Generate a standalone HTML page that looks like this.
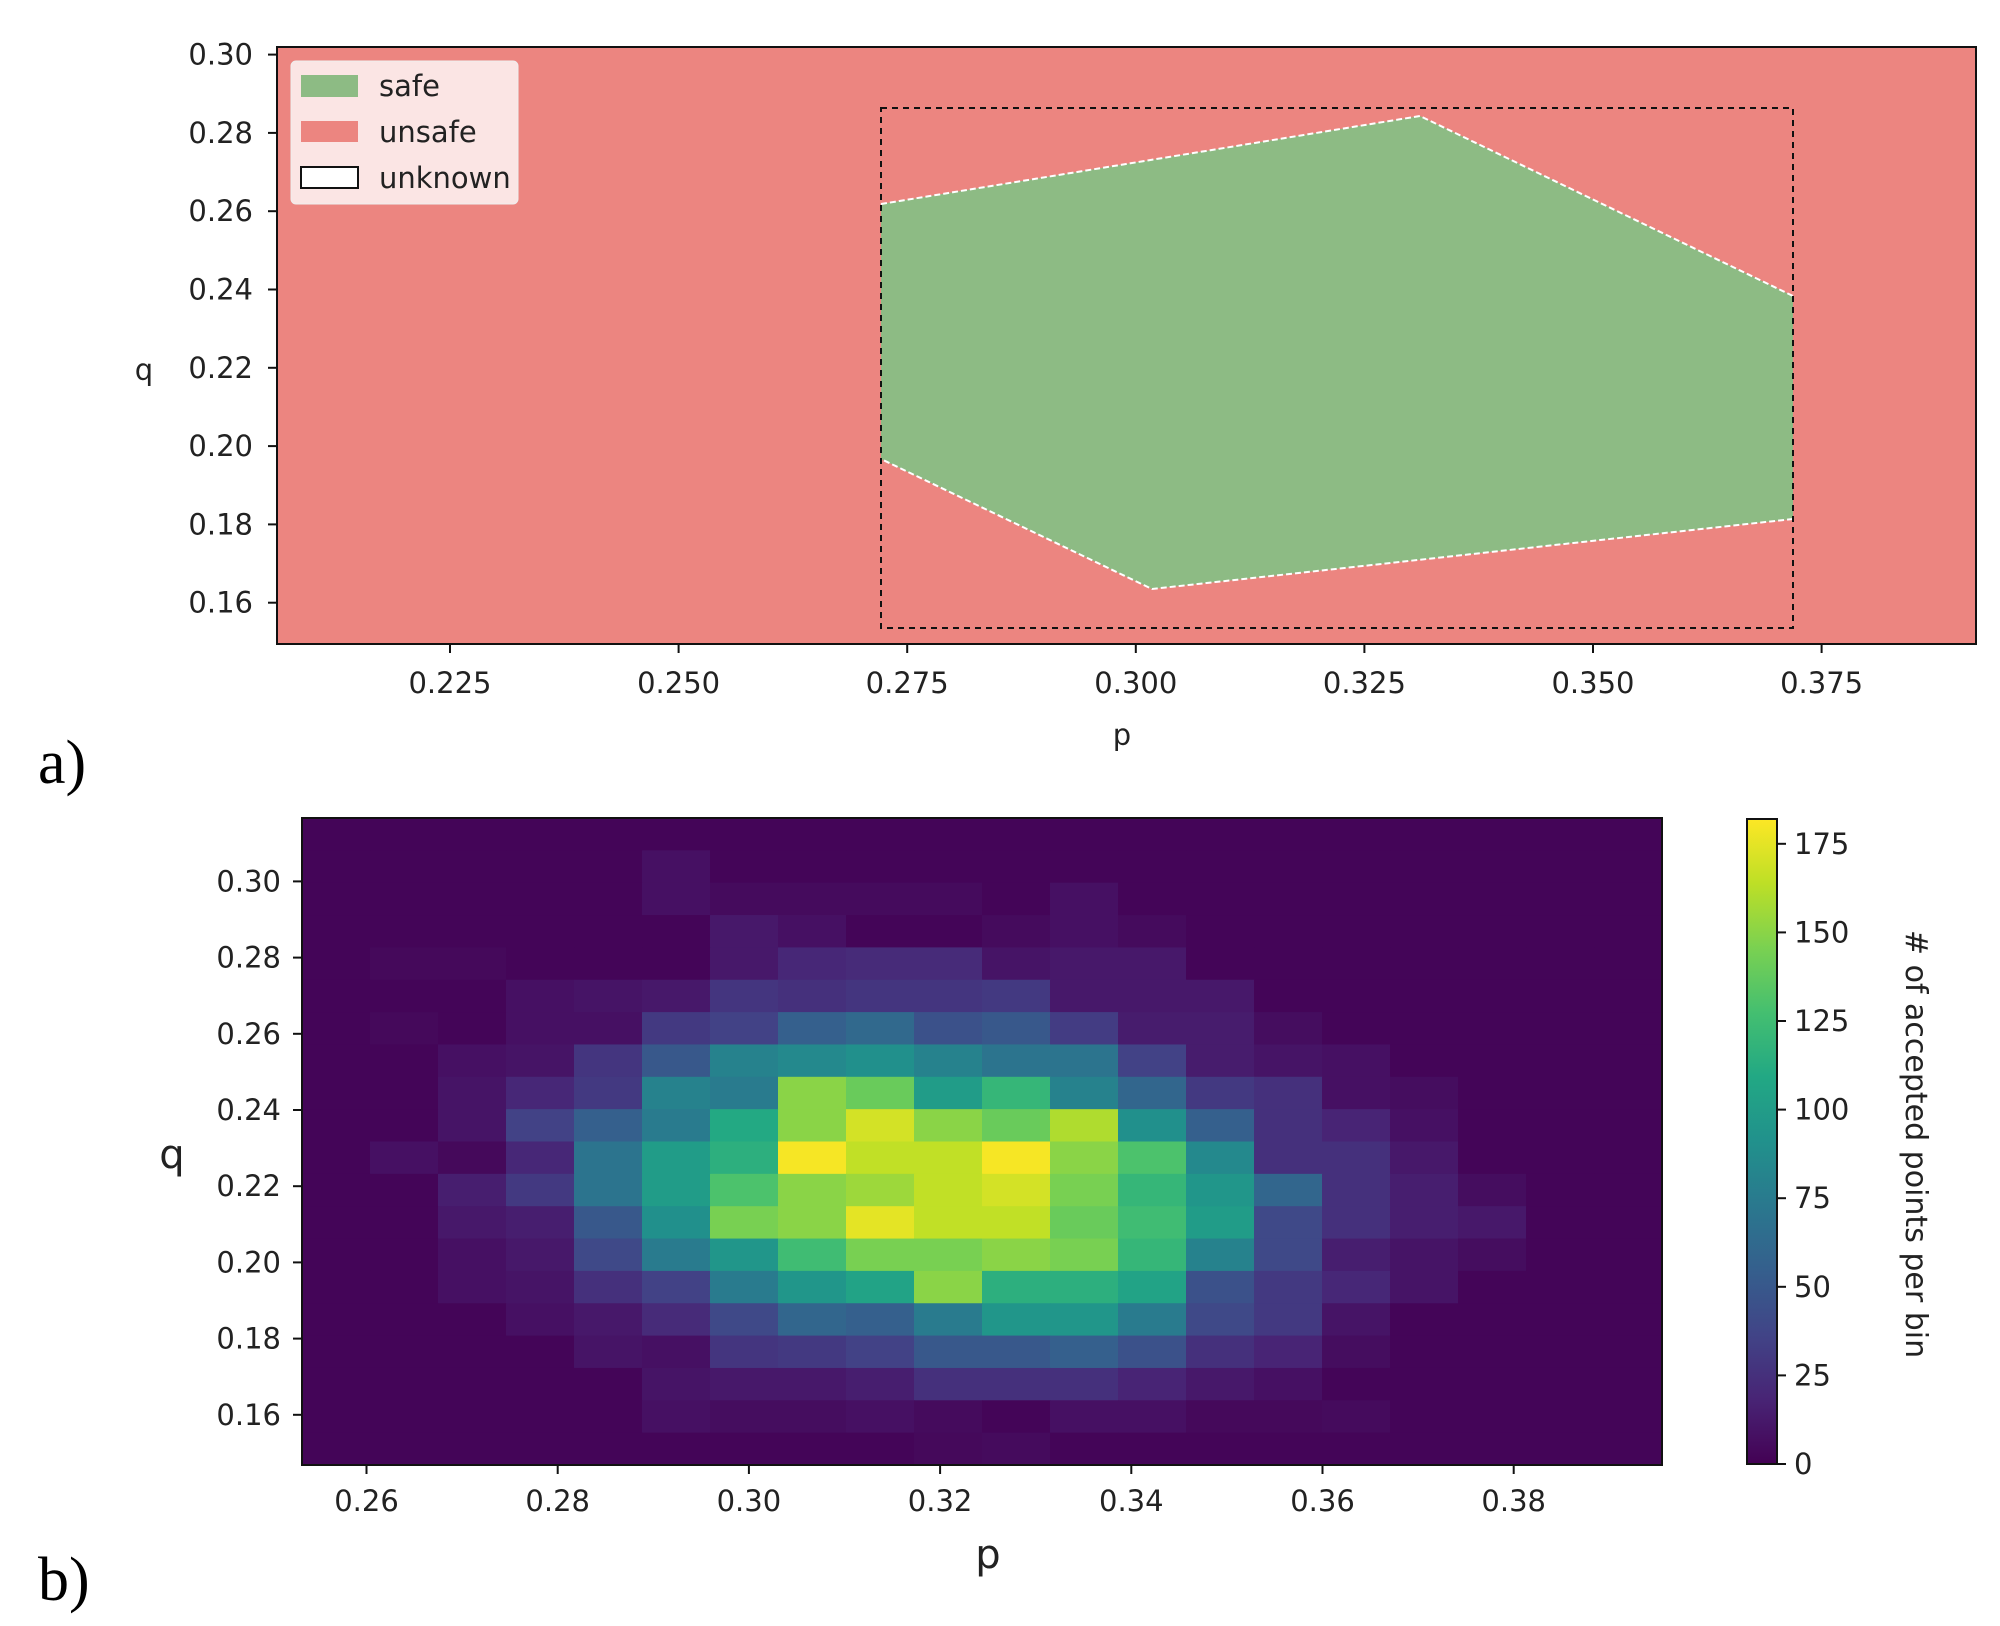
<!DOCTYPE html>
<html><head><meta charset="utf-8"><style>
html,body{margin:0;padding:0;background:#fff;}
svg{display:block;}
text{font-family:"DejaVu Sans","Liberation Sans",sans-serif;fill:#222;}
.t{font-size:29px;}
.s{font-family:"Liberation Serif",serif;font-size:62px;fill:#000;}
</style></head><body>
<svg id="svg" width="2000" height="1626" viewBox="0 0 2000 1626" xmlns="http://www.w3.org/2000/svg">
<defs>
<linearGradient id="vir" x1="0" y1="1" x2="0" y2="0">
<stop offset="0" stop-color="#440154"/><stop offset="0.1" stop-color="#482475"/><stop offset="0.2" stop-color="#414487"/><stop offset="0.3" stop-color="#355f8d"/><stop offset="0.4" stop-color="#2a788e"/><stop offset="0.5" stop-color="#21918c"/><stop offset="0.6" stop-color="#22a884"/><stop offset="0.7" stop-color="#44bf70"/><stop offset="0.8" stop-color="#7ad151"/><stop offset="0.9" stop-color="#bddf26"/><stop offset="1" stop-color="#fde725"/>
</linearGradient>
</defs>
<!-- Panel a -->
<rect x="277" y="47" width="1699" height="597" fill="#ec8580"/>
<polygon points="881,204 1420,116 1793,296 1793,519 1152,589 881,459" fill="#8dbb84"/>
<polyline points="881,204 1420,116 1793,296" fill="none" stroke="#fff" stroke-width="2" stroke-dasharray="6,3"/>
<polyline points="1793,519 1152,589 881,459" fill="none" stroke="#fff" stroke-width="2" stroke-dasharray="6,3"/>
<rect x="881" y="108" width="912" height="520" fill="none" stroke="#111" stroke-width="2" stroke-dasharray="6,5"/>
<rect x="277" y="47" width="1699" height="597" fill="none" stroke="#111" stroke-width="2"/>
<rect x="291" y="61" width="227" height="143" rx="5" fill="#fbe5e4" stroke="#eee" stroke-width="1"/>
<rect x="301" y="75" width="57" height="22" fill="#8dbb84"/>
<rect x="301" y="121" width="57" height="21" fill="#ec8580"/>
<rect x="301" y="167" width="57" height="21" fill="#fff" stroke="#111" stroke-width="2"/>
<text class="t" x="379" y="96">safe</text>
<text class="t" x="379" y="142">unsafe</text>
<text class="t" x="379" y="188">unknown</text>
<g id="atick"></g>
<text class="t" x="144" y="380" text-anchor="middle">q</text>
<text class="t" x="1122" y="745" text-anchor="middle">p</text>
<text class="s" x="38" y="783">a)</text>
<!-- Panel b -->
<g id="heat"></g>
<rect x="302" y="818" width="1360" height="647" fill="none" stroke="#111" stroke-width="2"/>
<rect x="1747" y="819" width="30" height="645" fill="url(#vir)" stroke="#111" stroke-width="2"/>
<g id="btick"></g>
<text x="172" y="1168" text-anchor="middle" style="font-size:40px">q</text>
<text x="988" y="1568" text-anchor="middle" style="font-size:40px">p</text>
<text class="s" x="38" y="1600">b)</text>
<text class="t" transform="translate(1906,1144) rotate(90)" text-anchor="middle" style="font-size:30px"># of accepted points per bin</text>
</svg>
<script>
var NS="http://www.w3.org/2000/svg";
function el(p,t,a,txt){var e=document.createElementNS(NS,t);for(var k in a)e.setAttribute(k,a[k]);if(txt!==undefined)e.textContent=txt;document.getElementById(p).appendChild(e);}
// panel a ticks
var ya=["0.30","0.28","0.26","0.24","0.22","0.20","0.18","0.16"];
for(var i=0;i<8;i++){var y=54.6+i*78.3;el("atick","line",{x1:268,x2:277,y1:y,y2:y,stroke:"#111","stroke-width":2});el("atick","text",{x:253,y:y+10,"text-anchor":"end","class":"t"},ya[i]);}
var xa=["0.225","0.250","0.275","0.300","0.325","0.350","0.375"];
for(var i=0;i<7;i++){var x=450+i*228.6;el("atick","line",{x1:x,x2:x,y1:644,y2:653,stroke:"#111","stroke-width":2});el("atick","text",{x:x,y:693,"text-anchor":"middle","class":"t"},xa[i]);}
// heatmap
var V=[];for(var r=0;r<20;r++){V.push([]);for(var c=0;c<20;c++)V[r].push(2);}
function S(r,o){for(var k in o)V[r][k]=o[k];}
S(1,{5:8});S(2,{5:8,6:5,7:5,8:5,9:5,11:8});
S(3,{6:12,7:8,10:5,11:8,12:5});
S(4,{1:4,2:4,6:12,7:20,8:22,9:22,10:10,11:12,12:12});
S(5,{3:8,4:10,5:12,6:28,7:25,8:28,9:28,10:30,11:12,12:12,13:12});
S(6,{1:4,3:8,4:8,5:30,6:35,7:55,8:62,9:45,10:50,11:32,12:14,13:14,14:6});
S(7,{2:8,3:10,4:28,5:50,6:80,7:85,8:90,9:80,10:70,11:70,12:35,13:14,14:10,15:8});
S(8,{2:10,3:20,4:30,5:80,6:75,7:150,8:140,9:100,10:120,11:80,12:60,13:30,14:25,15:8,16:6});
S(9,{2:10,3:35,4:55,5:75,6:110,7:150,8:170,9:150,10:140,11:160,12:90,13:55,14:25,15:18,16:8});
S(10,{1:8,2:4,3:20,4:70,5:100,6:115,7:180,8:165,9:165,10:180,11:150,12:130,13:85,14:25,15:25,16:12});
S(11,{2:15,3:30,4:70,5:100,6:130,7:150,8:155,9:165,10:170,11:145,12:120,13:95,14:60,15:25,16:15,17:6});
S(12,{2:12,3:15,4:50,5:90,6:145,7:150,8:175,9:165,10:165,11:140,12:125,13:100,14:40,15:25,16:15,17:12});
S(13,{2:8,3:12,4:40,5:75,6:95,7:125,8:145,9:145,10:150,11:145,12:120,13:80,14:40,15:15,16:10,17:6});
S(14,{2:8,3:10,4:25,5:35,6:75,7:95,8:105,9:150,10:115,11:115,12:105,13:45,14:30,15:20,16:10});
S(15,{3:8,4:12,5:22,6:40,7:60,8:55,9:75,10:95,11:95,12:75,13:40,14:30,15:10});
S(16,{4:10,5:8,6:28,7:30,8:35,9:50,10:50,11:55,12:45,13:25,14:18,15:6});
S(17,{5:10,6:12,7:12,8:15,9:25,10:25,11:25,12:18,13:12,14:8});
S(18,{5:8,6:6,7:6,8:8,9:5,11:8,12:8,13:4,14:4,15:5});
S(19,{9:4,10:5});
var st=[[68,1,84],[72,36,117],[65,68,135],[53,95,141],[42,120,142],[33,145,140],[34,168,132],[68,191,112],[122,209,81],[189,223,38],[253,231,37]];
function col(v){var t=Math.max(0,Math.min(1,v/182))*10;var i=Math.min(9,Math.floor(t));var f=t-i;var a=st[i],b=st[i+1];return "rgb("+[0,1,2].map(function(j){return Math.round(a[j]+(b[j]-a[j])*f)}).join(",")+")";}
var cw=1360/20,rh=647/20;
for(var r=0;r<20;r++)for(var c=0;c<20;c++)el("heat","rect",{x:(302+c*cw).toFixed(2),y:(818+r*rh).toFixed(2),width:(cw+0.6).toFixed(2),height:(rh+0.6).toFixed(2),fill:col(V[r][c])});
var yb=["0.30","0.28","0.26","0.24","0.22","0.20","0.18","0.16"];
for(var i=0;i<8;i++){var y=881.4+i*76.2;el("btick","line",{x1:293,x2:302,y1:y,y2:y,stroke:"#111","stroke-width":2});el("btick","text",{x:281,y:y+10,"text-anchor":"end","class":"t"},yb[i]);}
var xb=["0.26","0.28","0.30","0.32","0.34","0.36","0.38"];
for(var i=0;i<7;i++){var x=366.5+i*191.2;el("btick","line",{x1:x,x2:x,y1:1465,y2:1474,stroke:"#111","stroke-width":2});el("btick","text",{x:x,y:1511,"text-anchor":"middle","class":"t"},xb[i]);}
for(var v=0;v<=175;v+=25){var y=1464-v/182*645;el("btick","line",{x1:1777,x2:1786,y1:y,y2:y,stroke:"#111","stroke-width":2});el("btick","text",{x:1794,y:y+10,"class":"t"},String(v));}
</script>
</body></html>
